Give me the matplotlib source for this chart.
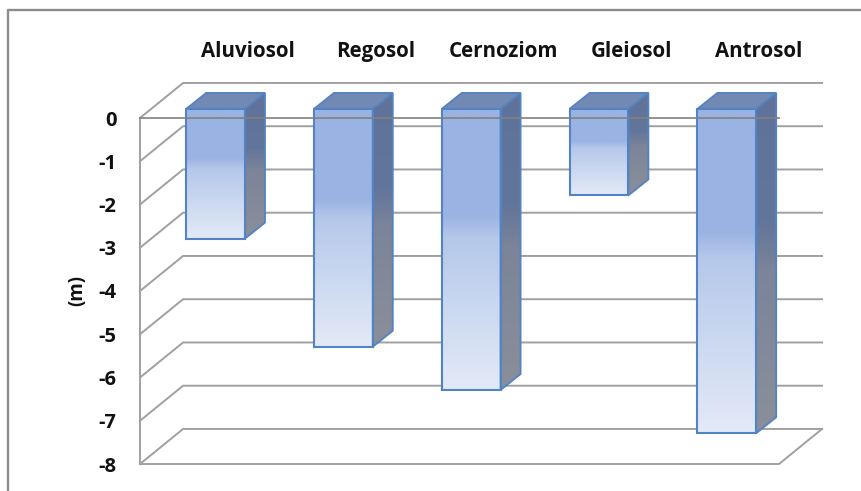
import numpy as np
import matplotlib
matplotlib.use('Agg')
import matplotlib.pyplot as plt
from matplotlib.colors import LinearSegmentedColormap
from matplotlib.patches import Polygon
from matplotlib.lines import Line2D

# valori
soils = ['Aluviosol', 'Regosol', 'Cernoziom', 'Gleiosol', 'Antrosol']
depths = [-3, -5.5, -6.5, -2, -7.5]
y_ticks = [0, -1, -2, -3, -4, -5, -6, -7, -8]

W, H = 862, 491
GRID = '#a0a0a0'
EDGE = '#5283c4'
TEXT = '#111111'

plt.rcParams['font.family'] = ['Open Sans', 'DejaVu Sans']

# adancimea 3D, in unitati de date (categorie, metri)
wall_dx, wall_dy = 0.337, 0.81
bar_dx, bar_dy = 0.091, 0.21
side_dx, side_dy = 0.157, 0.37
bar_w = 0.46

front_cmap = LinearSegmentedColormap.from_list('front', [
    (0, '#9ab3e3'), (0.38, '#9ab3e3'), (0.46, '#b5c8ea'), (1, '#e3eaf7')])
side_cmap = LinearSegmentedColormap.from_list('side', [
    (0, '#5f7299'), (0.38, '#62759b'), (0.52, '#7b8499'), (1, '#8a8f99')])

fig = plt.figure(figsize=(W / 100, H / 100), dpi=100)

# chenarul imaginii
fig.add_artist(Line2D([8 / W, 8 / W, 1], [0, 1 - 10 / H, 1 - 10 / H], color='#8c8c8c', lw=1.7))

ax = fig.add_axes([140 / W, (H - 464) / H, 639 / W, 346 / H])
ax.set_xlim(-0.5, 4.5)
ax.set_ylim(-8, 0)
for s in ['top', 'right', 'bottom']:
    ax.spines[s].set_visible(False)
ax.spines['left'].set_color(GRID)
ax.spines['left'].set_linewidth(1.4)
ax.set_xticks([])
ax.set_yticks(y_ticks)
ax.set_yticklabels([str(t) for t in y_ticks], fontsize=14.5, fontweight='bold', color=TEXT)
ax.tick_params(axis='y', length=0, pad=17)
ax.set_ylabel('(m)', fontsize=13.5, fontweight='bold', color=TEXT)
ax.yaxis.set_label_coords(-0.083, 0.5)

# peretele din spate si peretele din stanga
for t in y_ticks:
    ax.plot([-0.5, -0.5 + wall_dx, 4.5 + wall_dx], [t, t + wall_dy, t + wall_dy],
            color=GRID, lw=1.4, clip_on=False, zorder=1)

# podeaua, in fata barelor
ax.plot([-0.5, 4.5, 4.5 + wall_dx], [-8, -8, -8 + wall_dy], color=GRID, lw=1.4, clip_on=False, zorder=1)

for i, v in enumerate(depths):
    x0 = i + bar_dx - bar_w / 2
    x1 = x0 + bar_w
    top = bar_dy
    bot = v + bar_dy
    z = 3 + i

    # gradient fata
    grad = np.linspace(0, 1, 256).reshape(-1, 1)
    ax.imshow(grad, cmap=front_cmap, extent=[x0, x1, bot, top], origin='upper',
              aspect='auto', zorder=z, clip_on=False, interpolation='bilinear')
    ax.add_patch(Polygon([(x0, top), (x1, top), (x1, bot), (x0, bot)], closed=True,
                         fc='none', ec=EDGE, lw=1.5, clip_on=False, zorder=z + 0.3))

    # gradient lateral, decupat pe paralelogram
    side_pts = [(x1, top), (x1 + side_dx, top + side_dy), (x1 + side_dx, bot + side_dy), (x1, bot)]
    im = ax.imshow(grad, cmap=side_cmap, extent=[x1, x1 + side_dx, bot, top + side_dy], origin='upper',
                   aspect='auto', zorder=z, interpolation='bilinear')
    side = Polygon(side_pts, closed=True, fc='none', ec=EDGE, lw=1.3, clip_on=False, zorder=z + 0.2)
    ax.add_patch(side)
    im.set_clip_path(side)
    # altfel imaginea ramane taiata la marginea axelor
    im.set_clip_box(fig.bbox)

    # capacul
    ax.add_patch(Polygon([(x0, top), (x0 + side_dx, top + side_dy), (x1 + side_dx, top + side_dy), (x1, top)],
                         closed=True, fc='#7289b3', ec=EDGE, lw=1.3, clip_on=False, zorder=z + 0.2))

    ax.text(i + wall_dx + 0.005, 1.54, soils[i], ha='center', va='center', fontsize=14.8,
            fontweight='bold', color=TEXT, clip_on=False)

# linia de zero trece peste bare
ax.plot([-0.5, 4.5], [0, 0], color='#808080', lw=1.4, alpha=0.85, clip_on=False, zorder=20)

ax.set_xlim(-0.5, 4.5)
ax.set_ylim(-8, 0)

fig.savefig('out.png', dpi=100)
